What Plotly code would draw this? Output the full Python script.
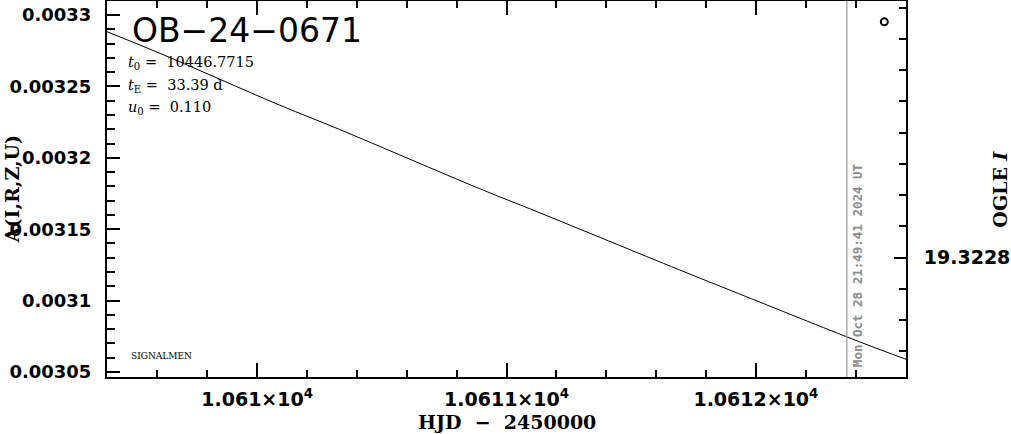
import plotly.graph_objects as go

# ---- data ----
hjd = [10609.398, 10609.61, 10610.09, 10610.33, 10610.89, 10611.13,
       10611.69, 10611.93, 10612.41, 10612.602]
model = [0.0032883, 0.00327316, 0.00323692, 0.00321989, 0.00317854,
         0.00316172, 0.00312177, 0.00310495, 0.00307152, 0.0030589]
obs_hjd = [10612.515]
obs_val = [0.0032952]

x_range = [10609.398, 10612.602]
y_range = [0.0030465, 0.0033098]
mag_range = [19.3231827, 19.3219785]

x_tickvals = [10610, 10611, 10612]
x_ticktext = ["1.061×10<sup>4</sup>", "1.0611×10<sup>4</sup>", "1.0612×10<sup>4</sup>"]
x_minor_step = 0.2
y_tickvals = [0.00305, 0.0031, 0.00315, 0.0032, 0.00325, 0.0033]
y_ticktext = ["0.00305", "0.0031", "0.00315", "0.0032", "0.00325", "0.0033"]
y_minor_step = 0.00001
mag_tickvals = [19.3228]
mag_ticktext = ["19.3228"]
mag_minor_step = 0.0001

now_hjd = 10612.365
now_text = "Mon Oct 28 21:49:41 2024 UT"
event_name = "OB\u221224\u22120671"
param_lines = [
    "<i>t</i><sub>0</sub>\u00a0=\u00a0 10446.7715",
    "<i>t</i><sub>E</sub>\u00a0=\u00a0 33.39 d",
    "<i>u</i><sub>0</sub>\u00a0=\u00a0 0.110",
]
x_title = "HJD\u00a0\u00a0\u2212\u00a0\u00a02450000"
y_title = "A(I,R,Z,U)"
y2_title = "OGLE <i>I</i>"


def minor_ticks(lo, hi, start, step):
    vals = []
    k = int((lo - start) / step) - 1
    while start + k * step <= hi:
        v = start + k * step
        if lo <= v <= hi:
            vals.append(round(v, 10))
        k += 1
    return vals


XTICKFONT = dict(family="DejaVu Sans", size=19, color="black", weight="bold")
YTICKFONT = dict(family="DejaVu Sans", size=18, color="black", weight="bold")
TITLEFONT = dict(family="DejaVu Serif", size=19, color="black", weight="bold")

fig = go.Figure()
fig.add_trace(go.Scatter(x=hjd, y=model, mode="lines",
                         line=dict(color="black", width=1, shape="spline"),
                         showlegend=False, hoverinfo="skip"))
fig.add_trace(go.Scatter(x=obs_hjd, y=obs_val, mode="markers",
                         marker=dict(symbol="circle-open", size=7, color="black",
                                     line=dict(width=2, color="black")),
                         showlegend=False))
# invisible traces to activate right and top axes
fig.add_trace(go.Scatter(x=[x_range[0]], y=[mag_range[0]], yaxis="y2", mode="markers",
                         marker=dict(opacity=0), showlegend=False, hoverinfo="skip"))
fig.add_trace(go.Scatter(x=[x_range[0]], y=[y_range[0]], xaxis="x2", mode="markers",
                         marker=dict(opacity=0), showlegend=False, hoverinfo="skip"))

fig.add_shape(type="line", x0=now_hjd, x1=now_hjd, xref="x", yref="paper",
              y0=0, y1=1, line=dict(color="#999999", width=1.2))

fig.add_annotation(x=now_hjd, xref="x", xshift=10, xanchor="center",
                   y=0.022, yref="paper", yanchor="bottom", textangle=-90,
                   text=now_text, showarrow=False,
                   font=dict(family="DejaVu Sans Mono", size=12.5, color="#8c8c8c", weight="bold"))

fig.add_annotation(x=0.0287, xref="paper", xanchor="left", y=0.921, yref="paper",
                   yanchor="middle", text=event_name, showarrow=False,
                   font=dict(family="DejaVu Sans", size=33, color="black"))
for txt, yy in zip(param_lines, [0.835, 0.774, 0.715]):
    fig.add_annotation(x=0.0235, xref="paper", xanchor="left", y=yy, yref="paper",
                       yanchor="middle", text=txt, showarrow=False,
                       font=dict(family="DejaVu Serif", size=14.5, color="black"))
fig.add_annotation(x=0.0275, xref="paper", xanchor="left", y=0.0559, yref="paper",
                   yanchor="middle", text="SIGNALMEN", showarrow=False,
                   font=dict(family="DejaVu Serif", size=9, color="black"))

fig.add_annotation(x=0.5, xref="paper", xanchor="center", y=-0.121, yref="paper",
                   yanchor="middle", text=x_title, showarrow=False, font=TITLEFONT)
fig.add_annotation(x=-0.1186, xref="paper", xanchor="center", y=0.5, yref="paper",
                   yanchor="middle", text=y_title, textangle=-90, showarrow=False, font=TITLEFONT)
fig.add_annotation(x=1.118, xref="paper", xanchor="center", y=0.499, yref="paper",
                   yanchor="middle", text=y2_title, textangle=-90, showarrow=False, font=TITLEFONT)

minor_common = dict(tickmode="array", ticks="inside", tickwidth=2,
                    tickcolor="black", showgrid=False)
x_minor_vals = minor_ticks(x_range[0], x_range[1], x_tickvals[0], x_minor_step)

fig.update_layout(
    width=1011, height=434,
    margin=dict(l=107, r=103, t=1, b=57),
    plot_bgcolor="white", paper_bgcolor="white",
    xaxis=dict(range=x_range, tickvals=x_tickvals, ticktext=x_ticktext,
               ticks="inside", ticklen=14, tickwidth=2, tickcolor="black",
               minor=dict(tickvals=x_minor_vals, ticklen=7, **minor_common),
               showline=True, linewidth=2, linecolor="black", mirror=False,
               showgrid=False, zeroline=False, tickfont=XTICKFONT,
               ticklabelstandoff=4),
    xaxis2=dict(range=x_range, overlaying="x", side="top",
                tickvals=x_tickvals, showticklabels=False,
                ticks="inside", ticklen=14, tickwidth=2, tickcolor="black",
                minor=dict(tickvals=x_minor_vals, ticklen=7, **minor_common),
                showline=True, linewidth=2, linecolor="black",
                showgrid=False, zeroline=False),
    yaxis=dict(range=y_range, tickvals=y_tickvals, ticktext=y_ticktext,
               ticks="inside", ticklen=13, tickwidth=2, tickcolor="black",
               minor=dict(tickvals=minor_ticks(y_range[0], y_range[1], y_tickvals[0], y_minor_step),
                          ticklen=8, **minor_common),
               showline=True, linewidth=2, linecolor="black", mirror=False,
               showgrid=False, zeroline=False, tickfont=YTICKFONT,
               ticklabelstandoff=10),
    yaxis2=dict(range=mag_range, overlaying="y", side="right",
                tickvals=mag_tickvals, ticktext=mag_ticktext,
                ticks="inside", ticklen=12, tickwidth=2, tickcolor="black",
                minor=dict(tickvals=minor_ticks(min(mag_range), max(mag_range), mag_tickvals[0], mag_minor_step),
                           ticklen=7, **minor_common),
                showline=True, linewidth=2, linecolor="black",
                showgrid=False, zeroline=False, tickfont=XTICKFONT,
                ticklabelstandoff=12),
)

fig.write_html("out.html", config={"displayModeBar": False},
               post_script="document.body.style.margin='0';document.body.style.padding='0';")
